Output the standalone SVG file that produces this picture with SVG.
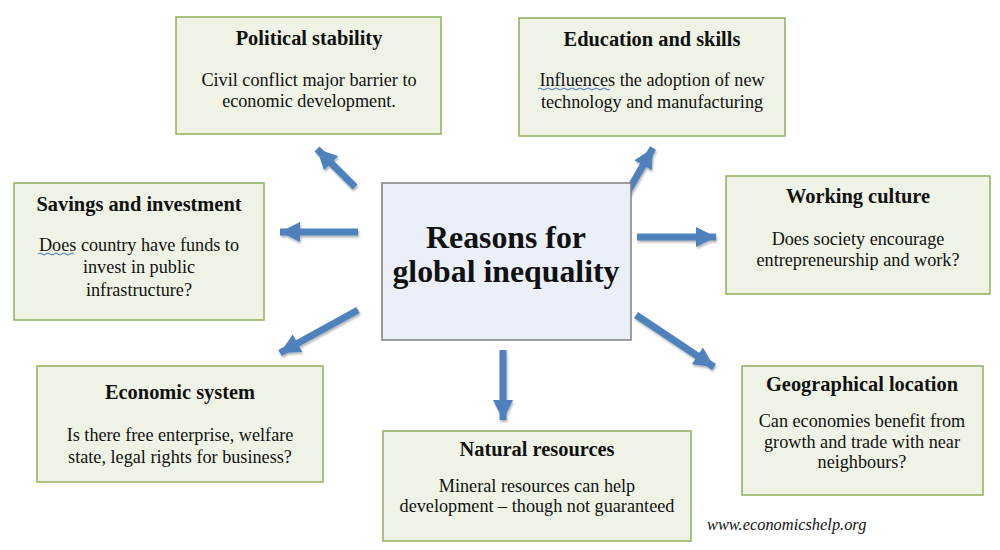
<svg xmlns="http://www.w3.org/2000/svg" width="1000" height="550" viewBox="0 0 1000 550">
<defs>
<style>
.box{fill:#eff3e5;stroke:#8fb05a;stroke-width:1.5}
.center{fill:#ebf0f8;stroke:#7f7f7f;stroke-width:1.5}
text{font-family:"Liberation Serif","DejaVu Serif",serif;fill:#111;text-anchor:middle}
.t{font-weight:bold;font-size:20.4px}
.b{font-size:18.2px}
.c{font-weight:bold;font-size:31.8px}
.w{font-style:italic;font-size:16.4px;text-anchor:start}
.arrow{stroke:#4f81bd;stroke-width:7;fill:none;marker-end:url(#head)}
.sq{stroke:#3b6fd6;stroke-width:1;fill:none}
</style>
<marker id="head" markerUnits="userSpaceOnUse" markerWidth="24" markerHeight="24" viewBox="0 0 24 24" refX="22" refY="12" orient="auto">
<path d="M2,2 L22,12 L2,22 Z" fill="#4f81bd"/>
</marker>
<filter id="sh" x="-20%" y="-20%" width="140%" height="140%">
<feDropShadow dx="1" dy="2" stdDeviation="1.2" flood-color="#000" flood-opacity="0.3"/>
</filter>
</defs>
<rect width="1000" height="550" fill="#fff"/>
<g id="connectors" filter="url(#sh)">
<line class="arrow" x1="355" y1="187" x2="317" y2="149"/>
<line class="arrow" x1="626" y1="195" x2="653" y2="148"/>
<line class="arrow" x1="358" y1="232" x2="280" y2="232"/>
<line class="arrow" x1="637" y1="237" x2="716" y2="237"/>
<line class="arrow" x1="358" y1="310" x2="280" y2="353"/>
<line class="arrow" x1="503" y1="350" x2="503" y2="420"/>
<line class="arrow" x1="636" y1="315" x2="714" y2="367"/>
</g>
<g id="center">
<rect class="center" x="382" y="183" width="249" height="157"/>
<text class="c" x="506" y="248">Reasons for</text>
<text class="c" x="506" y="282">global inequality</text>
</g>
<g id="political">
<rect class="box" x="176" y="17" width="265" height="117"/>
<text class="t" x="309" y="45">Political stability</text>
<text class="b" x="309" y="86">Civil conflict major barrier to</text>
<text class="b" x="309" y="107">economic development.</text>
</g>
<g id="education">
<rect class="box" x="519" y="18" width="266" height="118"/>
<text class="t" x="652" y="46">Education and skills</text>
<text class="b" x="652" y="86">Influences the adoption of new</text>
<text class="b" x="652" y="108">technology and manufacturing</text>
<path class="sq" d="M538,89 q2,-2 4,0 t4,0 t4,0 t4,0 t4,0 t4,0 t4,0 t4,0 t4,0 t4,0 t4,0 t4,0 t4,0 t4,0 t4,0 t4,0 t4,0 t4,0"/>
</g>
<g id="savings">
<rect class="box" x="14" y="183" width="250" height="137"/>
<text class="t" x="139" y="211">Savings and investment</text>
<text class="b" x="139" y="251">Does country have funds to</text>
<text class="b" x="139" y="273">invest in public</text>
<text class="b" x="139" y="296">infrastructure?</text>
<path class="sq" d="M38,254 q2,-2 4,0 t4,0 t4,0 t4,0 t4,0 t4,0 t4,0 t4,0 t4,0"/>
</g>
<g id="working">
<rect class="box" x="726" y="176" width="264" height="118"/>
<text class="t" x="858" y="203">Working culture</text>
<text class="b" x="858" y="245">Does society encourage</text>
<text class="b" x="858" y="266">entrepreneurship and work?</text>
</g>
<g id="economic">
<rect class="box" x="37" y="366" width="286" height="116"/>
<text class="t" x="180" y="399">Economic system</text>
<text class="b" x="180" y="441">Is there free enterprise, welfare</text>
<text class="b" x="180" y="463">state, legal rights for business?</text>
</g>
<g id="natural">
<rect class="box" x="383" y="431" width="308" height="110"/>
<text class="t" x="537" y="456">Natural resources</text>
<text class="b" x="537" y="492">Mineral resources can help</text>
<text class="b" x="537" y="512">development – though not guaranteed</text>
</g>
<g id="geographical">
<rect class="box" x="742" y="366" width="241" height="129"/>
<text class="t" x="862" y="391">Geographical location</text>
<text class="b" x="862" y="427">Can economies benefit from</text>
<text class="b" x="862" y="448">growth and trade with near</text>
<text class="b" x="862" y="468">neighbours?</text>
</g>
<text class="w" x="707" y="530">www.economicshelp.org</text>
</svg>
